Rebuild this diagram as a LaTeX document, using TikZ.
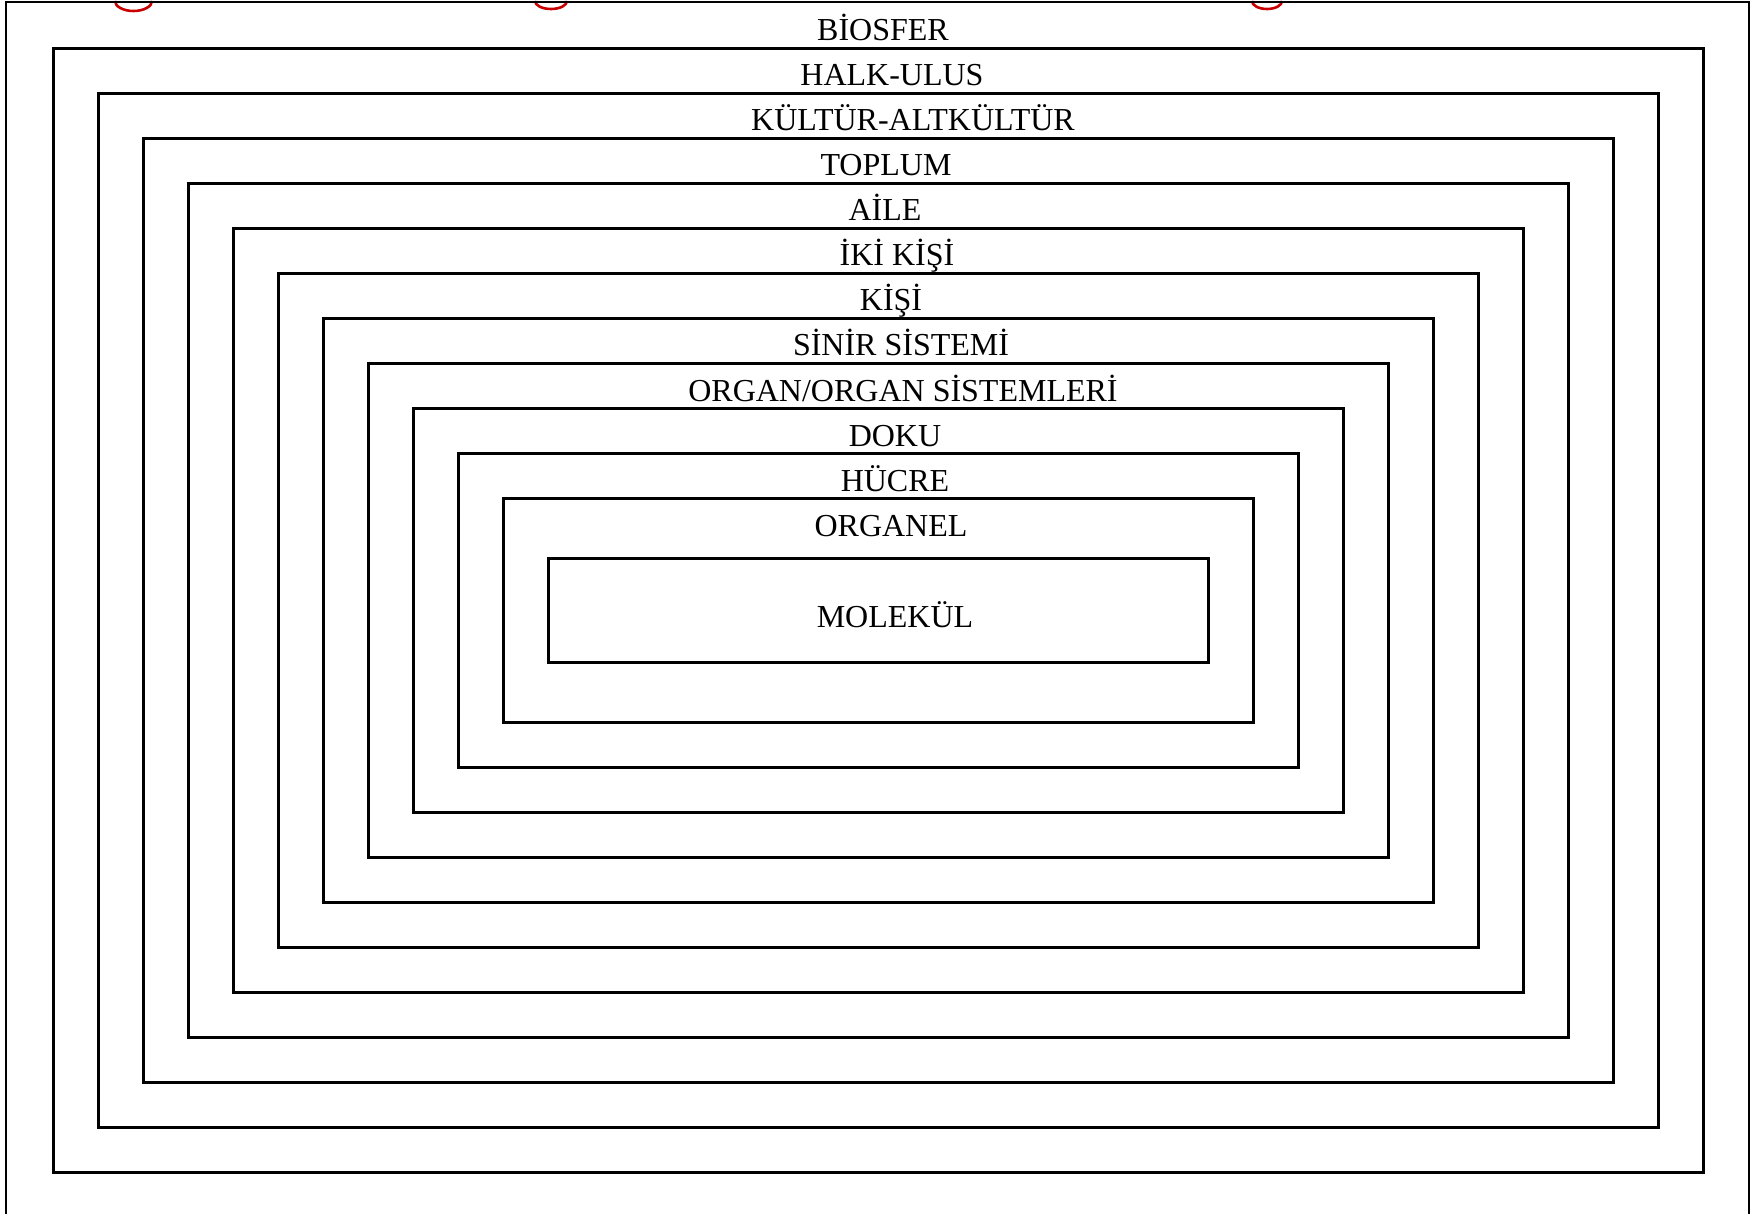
\documentclass[tikz,border=0pt]{standalone}
\usepackage{fontspec}
\setmainfont{Liberation Serif}
\definecolor{titlered}{RGB}{200,0,0}
\begin{document}
\begin{tikzpicture}[x=1pt,y=-1pt,
  layerbox/.style={draw=black,line width=2.6pt,minimum width=#1,inner sep=0pt,anchor=north west},
  layerlabel/.style={anchor=base,font=\fontsize{32}{36}\selectfont,inner sep=0pt},
  frameline/.style={line width=2.6pt},
  redarc/.style={draw=titlered,line width=2.6pt}]
\useasboundingbox (0,0) rectangle (1764,1214);
\fill[white] (0,0) rectangle (1764,1214);
% red remnants of the cut-off title
\draw[redarc] (115,1) arc[start angle=180,end angle=0,x radius=18.5,y radius=10];
\draw[redarc] (535,1) arc[start angle=180,end angle=0,x radius=16,y radius=8];
\draw[redarc] (1252,1) arc[start angle=180,end angle=0,x radius=15,y radius=8];
% outer frame
\coordinate (fbl) at (6,1220);
\coordinate (ftl) at (6,2);
\coordinate (ftr) at (1749,2);
\coordinate (fbr) at (1749,1220);
\draw[frameline] (fbl) -- (ftl) -- (ftr) -- (fbr);
% nested boxes
\foreach \i in {0,...,10}{
  \pgfmathsetmacro{\L}{52+45*\i}
  \pgfmathsetmacro{\T}{47+45*\i}
  \pgfmathsetmacro{\W}{1650-90*\i}
  \pgfmathsetmacro{\H}{1124-90*\i}
  \node[layerbox=\W pt,minimum height=\H pt] (box\i) at (\L,\T) {};
}
\node[layerbox=660pt,minimum height=104pt] (boxm) at (547,557) {};
% labels
\node[layerlabel] (l0) at (883,41) {BİOSFER};
\node[layerlabel] (l1) at (892,86) {HALK-ULUS};
\node[layerlabel] (l2) at (913,131) {KÜLTÜR-ALTKÜLTÜR};
\node[layerlabel] (l3) at (886,176) {TOPLUM};
\node[layerlabel] (l4) at (885,221) {AİLE};
\node[layerlabel] (l5) at (897,266) {İKİ KİŞİ};
\node[layerlabel] (l6) at (891,311) {KİŞİ};
\node[layerlabel] (l7) at (901,356) {SİNİR SİSTEMİ};
\node[layerlabel] (l8) at (903,401) {ORGAN/ORGAN SİSTEMLERİ};
\node[layerlabel] (l9) at (895,446) {DOKU};
\node[layerlabel] (l10) at (895,491) {HÜCRE};
\node[layerlabel] (l11) at (891,536) {ORGANEL};
\node[layerlabel] (lm) at (895,627) {MOLEKÜL};
\end{tikzpicture}
\end{document}
